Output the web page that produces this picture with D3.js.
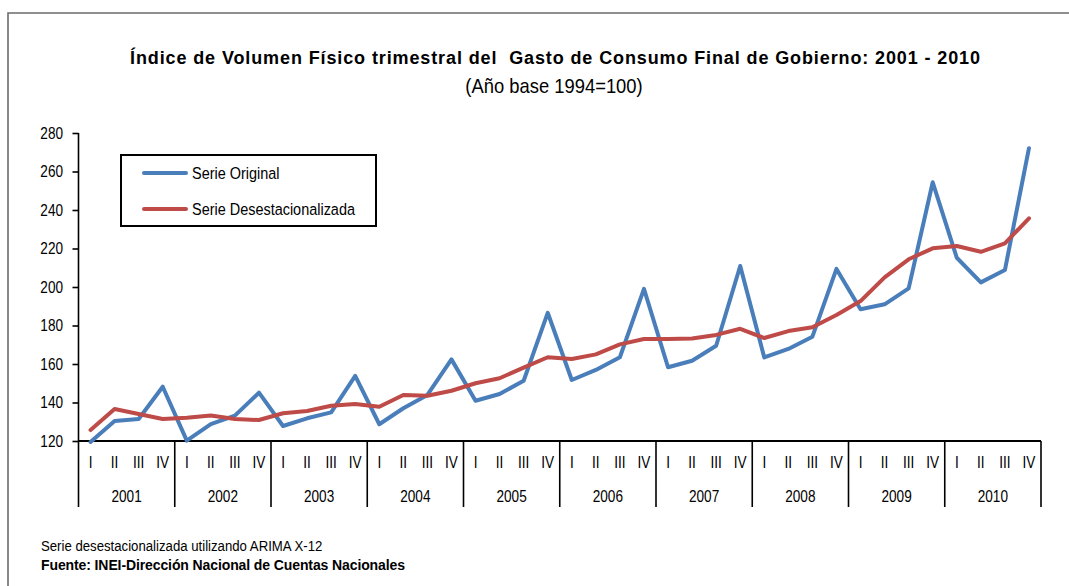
<!DOCTYPE html>
<html>
<head>
<meta charset="utf-8">
<script src="https://cdn.jsdelivr.net/npm/d3@7"></script>
<style>
  body { margin: 0; background: #fff; }
  svg text { font-family: "Liberation Sans", Arial, sans-serif; fill: #000; }
</style>
</head>
<body>
<svg id="chart"></svg>
<script>
const years = ["2001", "2002", "2003", "2004", "2005", "2006", "2007", "2008", "2009", "2010"]
const quarters = ["I", "II", "III", "IV"]
const yTicks = [120, 140, 160, 180, 200, 220, 240, 260, 280]

// Serie Original (quarterly, 2001 I .. 2010 IV)
const original = [
  119.5, 130.4, 131.4, 148.2,
  120.2, 128.8, 133.2, 145.1,
  127.8, 131.8, 134.9, 153.8,
  128.7, 137.0, 143.9, 162.4,
  140.9, 144.4, 151.3, 186.6,
  151.7, 156.9, 163.5, 199.0,
  158.3, 161.7, 169.5, 210.9,
  163.4, 167.8, 174.2, 209.4,
  188.4, 191.0, 199.3, 254.4,
  215.2, 202.4, 208.8, 272.1
]

// Serie Desestacionalizada
const desest = [
  125.7, 136.6, 134.0, 131.4,
  132.1, 133.2, 131.4, 130.9,
  134.4, 135.6, 138.3, 139.2,
  137.8, 143.9, 143.5, 146.1,
  150.0, 152.6, 158.1, 163.5,
  162.6, 165.0, 170.2, 173.0,
  173.0, 173.2, 175.1, 178.3,
  173.5, 177.1, 179.1, 185.5,
  192.7, 205.0, 214.4, 220.1,
  221.3, 218.3, 222.7, 235.7
]

const seriesNames = ["Serie Original", "Serie Desestacionalizada"]
const colors = ["#4a7ebb", "#be4b48"]

const outerWidth = 1069, outerHeight = 586
const plot = { left: 78.5, right: 1041, top: 133, bottom: 441 }
const SX = 0.8   // squeeze to mimic a narrow face

// move x/y into a transform and squeeze horizontally
function narrow(sel, sx) {
  sel.each(function () {
    const t = d3.select(this)
    const tx = +t.attr("x") || 0, ty = +t.attr("y") || 0
    t.attr("x", 0).attr("y", 0)
      .attr("transform", "translate(" + tx + "," + ty + ") scale(" + sx + ",1)")
  })
}

const svg = d3.select("#chart")
  .attr("width", outerWidth)
  .attr("height", outerHeight)

// outer frame (top and left edges visible)
svg.append("path")
  .attr("d", "M8,586 L8,13 L1069,13")
  .attr("fill", "none")
  .attr("stroke", "#6b6b6b")
  .attr("stroke-width", 1.6)

// titles
svg.append("text")
  .attr("x", 555).attr("y", 64)
  .attr("text-anchor", "middle")
  .attr("font-weight", "bold")
  .attr("font-size", 18)
  .attr("textLength", 850)
  .attr("lengthAdjust", "spacing")
  .style("white-space", "pre")
  .text("Índice de Volumen Físico trimestral del  Gasto de Consumo Final de Gobierno: 2001 - 2010")

svg.append("text")
  .attr("x", 554).attr("y", 93)
  .attr("text-anchor", "middle")
  .attr("font-size", 20)
  .call(narrow, 0.92)
  .text("(Año base 1994=100)")

// scales
const keys = []
years.forEach(y => quarters.forEach(q => keys.push(y + "-" + q)))

const x = d3.scaleBand()
  .domain(keys)
  .range([plot.left, plot.right])

const xYear = d3.scaleBand()
  .domain(years)
  .range([plot.left, plot.right])

const y = d3.scaleLinear()
  .domain([120, 280])
  .range([plot.bottom, plot.top])

// y axis
const yAxis = d3.axisLeft(y)
  .tickValues(yTicks)
  .tickSize(6)
  .tickSizeOuter(0)

const gy = svg.append("g")
  .attr("transform", "translate(" + plot.left + ",0)")
  .call(yAxis)
gy.select(".domain").remove()
gy.append("line")
  .attr("y1", plot.top).attr("y2", plot.bottom)
  .attr("stroke", "#000").attr("stroke-width", 1.6)
gy.selectAll("line").attr("stroke", "#000").attr("stroke-width", 1.6)
gy.selectAll("text")
  .attr("font-size", 17)
  .attr("font-family", null)
  .attr("fill", "#000")
  .attr("x", -15.5 / SX)
  .attr("transform", "scale(" + SX + ",1)")

// x axis: baseline, year separators, labels
const gx = svg.append("g")
gx.append("line")
  .attr("x1", plot.left).attr("x2", plot.right)
  .attr("y1", plot.bottom).attr("y2", plot.bottom)
  .attr("stroke", "#000").attr("stroke-width", 2)

const seps = years.map(yr => xYear(yr)).concat([plot.right])
gx.selectAll(".sep").data(seps).enter().append("line")
  .attr("class", "sep")
  .attr("x1", d => d).attr("x2", d => d)
  .attr("y1", plot.bottom).attr("y2", 507)
  .attr("stroke", "#000").attr("stroke-width", 1.6)

gx.selectAll(".q").data(keys).enter().append("text")
  .attr("class", "q")
  .attr("x", d => x(d) + x.bandwidth() / 2)
  .attr("y", 468)
  .attr("text-anchor", "middle")
  .attr("font-size", 17)
  .text(d => d.split("-")[1])
  .call(narrow, SX)

gx.selectAll(".yr").data(years).enter().append("text")
  .attr("class", "yr")
  .attr("x", d => xYear(d) + xYear.bandwidth() / 2)
  .attr("y", 502)
  .attr("text-anchor", "middle")
  .attr("font-size", 17)
  .text(d => d)
  .call(narrow, SX)

// lines
const line = d3.line()
  .x((d, i) => x(keys[i]) + x.bandwidth() / 2)
  .y(d => y(d))

svg.selectAll(".series").data([original, desest]).enter().append("path")
  .attr("class", "series")
  .attr("d", line)
  .attr("fill", "none")
  .attr("stroke", (d, i) => colors[i])
  .attr("stroke-width", 4)
  .attr("stroke-linejoin", "round")
  .attr("stroke-linecap", "round")

// legend
const legend = svg.append("g")
legend.append("rect")
  .attr("x", 121).attr("y", 155)
  .attr("width", 255).attr("height", 71)
  .attr("fill", "#fff")
  .attr("stroke", "#000")
  .attr("stroke-width", 2)

const items = legend.selectAll(".item").data(seriesNames).enter().append("g")
  .attr("class", "item")
  .attr("transform", (d, i) => "translate(0," + (173 + i * 36) + ")")
items.append("line")
  .attr("x1", 144).attr("x2", 186)
  .attr("stroke", (d, i) => colors[i])
  .attr("stroke-width", 4)
  .attr("stroke-linecap", "round")
items.append("text")
  .attr("x", 192).attr("y", 6)
  .attr("font-size", 17)
  .text(d => d)
  .call(narrow, 0.85)

// footnotes
svg.append("text")
  .attr("x", 41).attr("y", 551)
  .attr("font-size", 15)
  .attr("fill", "#333")
  .text("Serie desestacionalizada utilizando ARIMA X-12")
  .call(narrow, 0.88)

svg.append("text")
  .attr("x", 41).attr("y", 570)
  .attr("font-size", 14)
  .attr("font-weight", "bold")
  .attr("textLength", 364)
  .attr("lengthAdjust", "spacing")
  .text("Fuente: INEI-Dirección Nacional de Cuentas Nacionales")
</script>
</body>
</html>
